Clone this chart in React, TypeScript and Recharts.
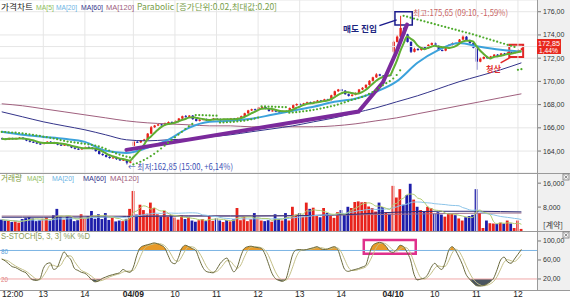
import { ComposedChart, Bar, Line, Area, XAxis, YAxis, CartesianGrid, ReferenceLine, ReferenceArea, Cell } from 'recharts';

// 5분봉: 04/08 12:00 ~ 04/10 12:05
const opens = [
  165.10, 165.05, 165.00, 165.10, 165.05, 165.10, 165.15, 165.05, 164.90, 164.80,
  164.75, 164.65, 164.60, 164.70, 164.80, 164.75, 164.65, 164.55, 164.50, 164.55,
  164.45, 164.30, 164.20, 164.15, 164.25, 164.35, 164.30, 164.20, 164.00, 163.75,
  163.65, 163.50, 163.40, 163.45, 163.30, 163.20, 163.25, 163.00,
  164.45, 164.80, 164.75, 164.90, 165.00, 165.50, 166.05, 166.20, 166.30, 166.25,
  166.40, 166.50, 166.45, 166.60, 166.80, 167.00, 166.95, 167.05, 166.75, 166.60,
  166.70, 166.75, 166.65, 166.70, 166.80, 166.75, 166.65, 166.75, 166.70, 166.80,
  166.75, 166.85, 167.00, 167.25, 167.50, 167.60, 167.55, 167.75, 167.80, 167.65,
  167.45, 167.50, 167.40, 167.35, 167.45, 167.40, 167.70, 167.95, 168.05, 168.00,
  168.10, 168.20, 168.15, 168.25, 168.35, 168.30, 168.45, 168.40, 168.80, 169.15,
  169.30, 169.20, 168.90, 168.75, 168.85, 169.00, 169.30, 169.45, 169.70, 170.05,
  170.35, 170.60, 170.50, 170.40, 170.55,
  172.55, 173.40, 173.85, 174.60, 174.05, 173.40, 172.55, 172.80, 172.70, 172.95,
  172.85, 173.15, 173.30, 173.05, 172.70, 172.65, 172.85, 173.15, 173.30, 173.25,
  173.60, 173.85, 173.55, 173.30, 172.90, 171.70, 171.95, 172.10, 172.00, 172.15,
  172.30, 172.20, 172.40, 172.35, 172.50, 172.45, 172.60, 172.70,
];
const highs = [
  165.15, 165.10, 165.15, 165.15, 165.15, 165.20, 165.20, 165.10, 164.95, 164.85,
  164.80, 164.70, 164.75, 164.85, 164.85, 164.80, 164.70, 164.60, 164.60, 164.60,
  164.50, 164.35, 164.25, 164.30, 164.40, 164.40, 164.35, 164.25, 164.05, 163.80,
  163.70, 163.55, 163.50, 163.50, 163.35, 163.30, 163.30, 163.15,
  164.90, 164.85, 164.95, 165.05, 165.55, 166.15, 166.25, 166.35, 166.35, 166.45,
  166.55, 166.55, 166.65, 166.85, 167.05, 167.10, 167.10, 167.10, 166.80, 166.75,
  166.80, 166.80, 166.75, 166.85, 166.85, 166.80, 166.80, 166.80, 166.85, 166.85,
  166.90, 167.05, 167.30, 167.55, 167.65, 167.65, 167.80, 167.85, 167.85, 167.70,
  167.55, 167.55, 167.45, 167.50, 167.50, 167.75, 168.00, 168.10, 168.10, 168.15,
  168.25, 168.25, 168.30, 168.40, 168.40, 168.50, 168.50, 168.85, 169.20, 169.35,
  169.35, 169.25, 168.95, 168.90, 169.05, 169.35, 169.50, 169.75, 170.10, 170.40,
  170.70, 170.65, 170.55, 170.60, 170.60,
  173.50, 173.95, 175.65, 174.70, 174.10, 173.45, 172.90, 172.85, 173.00, 173.00,
  173.20, 173.35, 173.35, 173.10, 172.75, 172.90, 173.20, 173.35, 173.35, 173.65,
  173.95, 173.90, 173.60, 173.35, 172.95, 172.05, 172.15, 172.15, 172.20, 172.35,
  172.35, 172.45, 172.45, 172.55, 172.55, 172.65, 172.75, 172.90,
];
const lows = [
  165.00, 164.95, 164.95, 165.00, 165.00, 165.05, 165.00, 164.85, 164.75, 164.70,
  164.60, 164.55, 164.55, 164.65, 164.70, 164.60, 164.50, 164.45, 164.45, 164.40,
  164.25, 164.15, 164.10, 164.10, 164.20, 164.25, 164.15, 163.95, 163.70, 163.60,
  163.45, 163.35, 163.35, 163.25, 163.15, 163.15, 162.85, 162.95,
  164.40, 164.70, 164.70, 164.85, 164.95, 165.45, 166.00, 166.15, 166.20, 166.20,
  166.35, 166.40, 166.40, 166.55, 166.75, 166.90, 166.90, 166.70, 166.55, 166.55,
  166.65, 166.60, 166.60, 166.65, 166.70, 166.60, 166.60, 166.65, 166.65, 166.70,
  166.70, 166.80, 166.95, 167.20, 167.45, 167.50, 167.50, 167.70, 167.60, 167.40,
  167.40, 167.35, 167.30, 167.30, 167.35, 167.35, 167.65, 167.90, 167.95, 167.95,
  168.05, 168.10, 168.10, 168.20, 168.25, 168.25, 168.35, 168.35, 168.75, 169.10,
  169.15, 168.85, 168.70, 168.70, 168.80, 168.95, 169.25, 169.40, 169.65, 170.00,
  170.30, 170.45, 170.35, 170.35, 170.45,
  172.45, 173.35, 173.80, 174.00, 173.35, 172.45, 172.50, 172.65, 172.65, 172.80,
  172.80, 173.10, 173.00, 172.65, 172.60, 172.60, 172.80, 173.10, 173.20, 173.20,
  173.55, 173.50, 173.25, 172.85, 171.00, 171.65, 171.90, 171.95, 171.95, 172.10,
  172.15, 172.15, 172.30, 172.30, 172.40, 172.40, 172.55, 172.65,
];
const closes = [
  165.05, 165.00, 165.10, 165.05, 165.10, 165.15, 165.05, 164.90, 164.80, 164.75,
  164.65, 164.60, 164.70, 164.80, 164.75, 164.65, 164.55, 164.50, 164.55, 164.45,
  164.30, 164.20, 164.15, 164.25, 164.35, 164.30, 164.20, 164.00, 163.75, 163.65,
  163.50, 163.40, 163.45, 163.30, 163.20, 163.25, 163.00, 163.10,
  164.80, 164.75, 164.90, 165.00, 165.50, 166.05, 166.20, 166.30, 166.25, 166.40,
  166.50, 166.45, 166.60, 166.80, 167.00, 166.95, 167.05, 166.75, 166.60, 166.70,
  166.75, 166.65, 166.70, 166.80, 166.75, 166.65, 166.75, 166.70, 166.80, 166.75,
  166.85, 167.00, 167.25, 167.50, 167.60, 167.55, 167.75, 167.80, 167.65, 167.45,
  167.50, 167.40, 167.35, 167.45, 167.40, 167.70, 167.95, 168.05, 168.00, 168.10,
  168.20, 168.15, 168.25, 168.35, 168.30, 168.45, 168.40, 168.80, 169.15, 169.30,
  169.20, 168.90, 168.75, 168.85, 169.00, 169.30, 169.45, 169.70, 170.05, 170.35,
  170.60, 170.50, 170.40, 170.55, 170.50,
  173.40, 173.85, 174.60, 174.05, 173.40, 172.55, 172.80, 172.70, 172.95, 172.85,
  173.15, 173.30, 173.05, 172.70, 172.65, 172.85, 173.15, 173.30, 173.25, 173.60,
  173.85, 173.55, 173.30, 172.90, 171.70, 171.95, 172.10, 172.00, 172.15, 172.30,
  172.20, 172.40, 172.35, 172.50, 172.45, 172.60, 172.70, 172.85,
];
const volumes = [
  3800, 3500, 3400, 3000, 3200, 2800, 4000, 4300, 4600, 4200,
  3300, 3600, 4100, 4500, 3500, 5300, 7400, 4600, 3800, 4700,
  4500, 3300, 3600, 5600, 4200, 5000, 6700, 4100, 5600, 4000,
  6000, 3700, 4400, 3200, 3500, 3300, 3900, 7400,
  13400, 5500, 8800, 7000, 5800, 9500, 7700, 5600, 4800, 6700,
  4800, 5100, 4500, 3800, 5300, 4000, 4600, 3500, 3100, 3600,
  4000, 3300, 5300, 3400, 4200, 3500, 3000, 3700, 3200, 3900,
  7700, 3600, 4800, 3300, 4000, 6000, 4200, 3500, 3300, 3600,
  3100, 5600, 4000, 3500, 6000, 3500, 8100, 5500, 6000, 4800,
  9500, 7400, 7800, 5000, 4600, 7700, 6000, 5000, 4400, 6300,
  7000, 5400, 8100, 7700, 9700, 9900, 9600, 9700, 8200, 7700,
  6500, 9500, 8000, 6200, 5800,
  15100, 11200, 14000, 8800, 12000, 15800, 10500, 8100, 7000, 6500,
  8100, 7700, 5800, 6300, 5500, 4800, 6000, 6000, 5300, 4200,
  3500, 4600, 5000, 5400, 14000, 6000, 1000, 3500, 2600, 2500,
  2400, 2800, 2500, 3500, 2500, 1000, 3500, 700,
];
const sarValues = [
  165.65, 165.64, 165.62, 165.60, 165.58, 165.55, 165.52, 165.48, 165.44, 165.40,
  165.35, 165.30, 165.25, 165.20, 165.14, 165.08, 165.02, 164.95, 164.88, 164.82,
  164.78, 164.74, 164.70, 164.66, 164.62, 164.58, 164.54, 164.48, 164.40, 164.30,
  164.18, 164.05, 163.92, 163.80, 163.70, 163.60, 163.52, 163.45,
  162.85, 162.95, 163.08, 163.22, 163.38, 163.56, 163.76, 163.98, 164.22, 164.46,
  164.70, 164.94, 165.18, 165.42, 165.66, 165.90, 166.12, 166.34, 167.10, 167.10,
  167.09, 167.08, 167.07, 167.06, 167.05, 166.45, 166.46, 166.48, 166.50, 166.52,
  166.55, 166.58, 166.62, 166.67, 166.73, 166.80, 166.88, 167.85, 167.84, 167.83,
  167.82, 167.81, 167.80, 167.79, 167.78, 167.30, 167.32, 167.35, 167.38, 167.42,
  167.46, 167.50, 167.55, 167.60, 167.66, 167.72, 167.78, 167.85, 167.92, 168.00,
  168.10, 168.20, 168.30, 168.40, 168.48, 168.56, 168.66, 168.78, 168.92, 169.08,
  169.26, 169.46, 169.66, 169.85, 170.02,
  170.25, 170.55, 170.95, 175.65, 175.57, 175.49, 175.41, 175.33, 175.25, 175.17,
  175.09, 175.01, 174.93, 174.85, 174.77, 174.69, 174.61, 174.53, 174.45, 174.37,
  174.29, 174.21, 174.13, 174.05, 173.96, 173.87, 173.78, 173.69, 173.60, 173.51,
  173.42, 173.33, 173.24, 173.15, 173.06, 172.97, 171.00, 171.05,
];
const stochK = [
  62, 58, 52, 46, 44, 40, 36, 33, 24, 18,
  17, 20, 42, 52, 54, 40, 44, 62, 77, 68,
  60, 42, 38, 34, 32, 26, 18, 14, 16, 21,
  24, 27, 29, 31, 33, 40, 36, 34,
  45, 70, 86, 90, 92, 94, 96, 94, 91, 86,
  70, 55, 52, 65, 85, 91, 88, 84, 80, 62,
  45, 36, 34, 33, 40, 52, 60, 64, 48, 35,
  45, 68, 84, 88, 89, 87, 86, 84, 72, 52,
  32, 21, 17, 15, 20, 45, 72, 81, 82, 81,
  82, 84, 86, 88, 84, 82, 83, 86, 88, 82,
  60, 40, 36, 38, 40, 42, 45, 48, 70, 90,
  95, 97, 95, 88, 78,
  76, 82, 91, 88, 76, 60, 30, 18, 20, 22,
  30, 45, 53, 45, 40, 55, 80, 88, 80, 66,
  50, 30, 20, 12, 6, 5, 6, 9, 14, 22,
  40, 60, 66, 56, 53, 62, 72, 82,
];

// 느린 이평선: 6봉 간격으로 읽은 값
const maIdx = [0, 6, 12, 18, 24, 30, 36, 42, 48, 54, 60, 66, 72, 78, 84, 90, 96, 102, 108, 114, 120, 126, 132, 138, 144, 150];
const ma20 = [165.66, 165.40, 165.22, 165.05, 164.79, 164.02, 163.84, 164.28, 164.97, 166.00, 166.52, 166.60, 166.78, 167.12, 167.47, 167.81, 168.24, 168.50, 169.10, 170.00, 171.60, 172.70, 173.30, 172.98, 172.72, 172.55];
const ma60 = [167.38, 166.95, 166.52, 166.17, 165.83, 165.40, 164.97, 164.88, 164.97, 165.05, 165.22, 165.40, 165.66, 165.91, 166.17, 166.52, 166.86, 167.29, 167.72, 168.24, 168.76, 169.36, 169.97, 170.48, 171.00, 171.60];
const ma120 = [168.07, 167.90, 167.64, 167.38, 167.12, 166.86, 166.60, 166.43, 166.34, 166.26, 166.17, 166.17, 166.09, 166.09, 166.09, 166.09, 166.17, 166.34, 166.60, 166.86, 167.21, 167.55, 167.90, 168.24, 168.59, 168.93];
const volMa60 = [4600, 4600, 4600, 4650, 4700, 4700, 4800, 4900, 5000, 5000, 5000, 5000, 5000, 5050, 5100, 5200, 5400, 5600, 6000, 6300, 6500, 6600, 6600, 6600, 6500, 6400];
const volMa120 = [5000, 5000, 5000, 5000, 5000, 5000, 5000, 5050, 5100, 5100, 5100, 5100, 5100, 5100, 5150, 5200, 5300, 5400, 5500, 5600, 5700, 5800, 5900, 5950, 6000, 6000];

// 손으로 그린 추세선 (보라색)
const trendIdx = [36, 103, 110, 114, 117];
const trendVal = [164.10, 167.40, 169.90, 172.60, 174.90];

const tickIdx = [0, 12, 24, 38, 50, 62, 74, 86, 98, 113, 125, 137, 149];
const tickText = ['12:00', '13', '14', '04/09', '10', '11', '12', '13', '14', '04/10', '10', '11', '12'];
// 173,00 은 현재가 표시에 가려 보이지 않음
const priceTicks = [163, 164, 165, 166, 167, 168, 169, 170, 171, 172, 174, 175, 176];
const volTicks = [4000, 8000, 12000, 16000];
const stochTicks = [20, 40, 60, 80, 100];

const RED = '#e8231c';
const BLUE = '#1e1eaa';
const SLOTS = 155;
const FONT = "'Noto Sans CJK KR', 'Noto Sans', sans-serif";
const NUM_FONT = "'Liberation Sans', 'DejaVu Sans', sans-serif";

const avg = (arr: number[], i: number, n: number) => {
  const s = Math.max(0, i - n + 1);
  let t = 0;
  for (let j = s; j <= i; j++) t += arr[j];
  return t / (i - s + 1);
};

const rows = Array.from({ length: SLOTS }, (_, i) => {
  if (i >= closes.length) return { i };
  const m = maIdx.indexOf(i);
  const t = trendIdx.indexOf(i);
  const k = stochK[i];
  return {
    i,
    o: opens[i], h: highs[i], l: lows[i], c: closes[i],
    hl: [lows[i], highs[i]],
    ma5: avg(closes, i, 5),
    ma20: m >= 0 ? ma20[m] : null,
    ma60: m >= 0 ? ma60[m] : null,
    ma120: m >= 0 ? ma120[m] : null,
    sar: sarValues[i],
    trend: t >= 0 ? trendVal[t] : null,
    vol: volumes[i],
    vma5: avg(volumes, i, 5),
    vma20: avg(volumes, i, 20),
    vma60: m >= 0 ? volMa60[m] : null,
    vma120: m >= 0 ? volMa120[m] : null,
    k,
    d: avg(stochK, i, 3),
    kHi: [80, Math.max(80, k)],
    kLo: [Math.min(20, k), 20],
  };
});

const Candle = (props: any) => {
  const { x, width, payload } = props;
  let { y, height } = props;
  if (!payload || payload.o == null) return <g />;
  if (height < 0) { y += height; height = -height; }
  const { o, h, l, c } = payload;
  const up = c >= o;
  const color = up ? RED : BLUE;
  const k = h === l ? 0 : height / (h - l);
  const yO = y + (h - o) * k;
  const yC = y + (h - c) * k;
  const top = Math.min(yO, yC);
  const bh = Math.max(1, Math.abs(yO - yC));
  const cx = x + width / 2;
  return (
    <g>
      <line x1={cx} x2={cx} y1={y} y2={y + height} stroke={color} strokeWidth={1} />
      <rect x={x} y={top} width={width} height={bh} fill={color} />
    </g>
  );
};

// 스토캐스틱 차트 안쪽 좌표 (차트 상단 = 231px)
const XTick = (props: any) => {
  const { x, payload } = props;
  const n = tickIdx.indexOf(payload.value);
  const label = tickText[n] ?? '';
  const isDate = label.includes('/');
  const first = n === 0;
  return (
    <text x={first ? 2 : x} y={66} textAnchor={first ? 'start' : 'middle'} fontSize={8.5}
      fontWeight={isDate ? 700 : 400} fill="#222" fontFamily={NUM_FONT}>{label}</text>
  );
};

const decComma = (v: number) => v.toFixed(2).replace('.', ',');
const yTick = { fontSize: 7, fill: '#333', fontFamily: NUM_FONT };
const margin = { top: 0, right: 0, left: 0, bottom: 0 };

const T = (p: { x: number; y: number; w: number; fill: string; size?: number; bold?: boolean; font?: string; children: string }) => (
  <text x={p.x} y={p.y} textLength={p.w} lengthAdjust="spacingAndGlyphs" fontSize={p.size ?? 8.5}
    fontWeight={p.bold ? 700 : 400} fill={p.fill} fontFamily={p.font ?? FONT}>{p.children}</text>
);

const CloseBox = ({ x, y }: { x: number; y: number }) => (
  <g stroke="#777" strokeWidth={0.8} fill="none">
    <rect x={x} y={y} width={6} height={6} />
    <line x1={x + 1.5} y1={y + 1.5} x2={x + 4.5} y2={y + 4.5} />
    <line x1={x + 4.5} y1={y + 1.5} x2={x + 1.5} y2={y + 4.5} />
  </g>
);

export default function App() {
  return (
    <div style={{ position: 'fixed', left: 0, top: 0, width: 570, height: 301, background: '#fff', fontFamily: FONT, overflow: 'hidden' }}>
      <div style={{ position: 'absolute', left: 537, top: 0, width: 33, height: 290, background: '#f0f0f0' }} />

      {/* 가격차트 */}
      <div style={{ position: 'absolute', left: 0, top: 0 }}>
        <ComposedChart width={570} height={173} data={rows} margin={margin}>
          <CartesianGrid vertical={false} stroke="#e6e6e6" />
          <XAxis dataKey="i" hide scale="band" />
          <YAxis orientation="right" width={33} domain={[162.11, 177.01]} allowDataOverflow ticks={priceTicks}
            tickFormatter={decComma} tick={yTick} tickSize={4} axisLine={false} tickLine={{ stroke: '#777' }} />
          <ReferenceLine y={173} stroke="#e6e6e6" />
          {tickIdx.slice(1).map((t) => (
            <ReferenceLine key={t} x={t} stroke="#e6e6e6" />
          ))}
          <Bar dataKey="hl" barSize={2.4} shape={(p: any) => <Candle {...p} />} isAnimationActive={false} />
          <Line dataKey="ma120" type="monotone" stroke="#a0607e" strokeWidth={1} dot={false} activeDot={false} connectNulls isAnimationActive={false} />
          <Line dataKey="ma60" type="monotone" stroke="#34348a" strokeWidth={1} dot={false} activeDot={false} connectNulls isAnimationActive={false} />
          <Line dataKey="ma20" type="monotone" stroke="#3ca2dc" strokeWidth={2} dot={false} activeDot={false} connectNulls isAnimationActive={false} />
          <Line dataKey="ma5" type="monotone" stroke="#5fae32" strokeWidth={2} dot={false} activeDot={false} isAnimationActive={false} />
          <Line dataKey="sar" stroke="none" dot={{ r: 1.1, fill: '#4caa2a', stroke: 'none' }} activeDot={false} isAnimationActive={false} />
          <Line dataKey="trend" type="linear" stroke="#7b2a9c" strokeWidth={4} dot={false} activeDot={false} connectNulls strokeLinecap="round" isAnimationActive={false} />
          <ReferenceArea x1={114} x2={118} y1={174.85} y2={176.0} fill="none" stroke="#1b1b8c" strokeWidth={1.5} ifOverflow="visible" />
          <ReferenceLine segment={[{ x: 109, y: 174.8 }, { x: 114, y: 175.3 }]} stroke="#1b1b8c" strokeWidth={1.5} ifOverflow="visible" />
          <ReferenceArea x1={147} x2={150} y1={172.1} y2={173.15} fill="none" stroke="#e02828" strokeWidth={2} ifOverflow="visible" />
          <ReferenceLine segment={[{ x: 144, y: 171.6 }, { x: 147, y: 172.1 }]} stroke="#e02828" strokeWidth={1.5} ifOverflow="visible" />
        </ComposedChart>
      </div>

      {/* 거래량 */}
      <div style={{ position: 'absolute', left: 0, top: 173 }}>
        <ComposedChart width={570} height={58} data={rows} margin={margin}>
          <XAxis dataKey="i" hide scale="band" />
          <YAxis orientation="right" width={33} domain={[0, 19400]} allowDataOverflow ticks={volTicks}
            tickFormatter={(v: number) => v.toLocaleString('en-US')} tick={yTick} tickSize={4} axisLine={false} tickLine={{ stroke: '#777' }} />
          {tickIdx.slice(1).map((t) => (
            <ReferenceLine key={t} x={t} stroke="#ececec" />
          ))}
          <Bar dataKey="vol" barSize={2.8} isAnimationActive={false}>
            {rows.map((r: any, idx) => (
              <Cell key={idx} fill={r.c >= r.o ? RED : BLUE} />
            ))}
          </Bar>
          <Line dataKey="vma120" type="monotone" stroke="#a0708c" strokeWidth={1} dot={false} activeDot={false} connectNulls isAnimationActive={false} />
          <Line dataKey="vma60" type="monotone" stroke="#2e2e78" strokeWidth={1} dot={false} activeDot={false} connectNulls isAnimationActive={false} />
          <Line dataKey="vma20" type="monotone" stroke="#8cc4e8" strokeWidth={1} dot={false} activeDot={false} isAnimationActive={false} />
          <Line dataKey="vma5" type="monotone" stroke="#b0cc70" strokeWidth={1} dot={false} activeDot={false} isAnimationActive={false} />
        </ComposedChart>
      </div>

      {/* S-STOCH */}
      <div style={{ position: 'absolute', left: 0, top: 231 }}>
        <ComposedChart width={570} height={70} data={rows} margin={margin}>
          <XAxis dataKey="i" scale="band" ticks={tickIdx} interval={0} tick={<XTick />} tickLine={false} axisLine={false} height={11} />
          <YAxis orientation="right" width={33} domain={[-3.2, 121]} allowDataOverflow ticks={stochTicks}
            tickFormatter={decComma} tick={yTick} tickSize={4} axisLine={false} tickLine={{ stroke: '#777' }} />
          <ReferenceLine y={80} stroke="#7cb4e4" />
          <ReferenceLine y={20} stroke="#f0a8a8" />
          <Area dataKey="kHi" type="monotone" fill="#e89a28" fillOpacity={1} stroke="none" activeDot={false} isAnimationActive={false} />
          <Area dataKey="kLo" type="monotone" fill="#4a5560" fillOpacity={1} stroke="none" activeDot={false} isAnimationActive={false} />
          <Line dataKey="d" type="monotone" stroke="#c4c088" strokeWidth={1} dot={false} activeDot={false} isAnimationActive={false} />
          <Line dataKey="k" type="monotone" stroke="#6a6a3e" strokeWidth={1} dot={false} activeDot={false} isAnimationActive={false} />
          <ReferenceArea x1={105} x2={119} y1={73} y2={102} fill="none" stroke="#e0308c" strokeWidth={2.5} ifOverflow="visible" />
        </ComposedChart>
      </div>

      {/* 구분선 */}
      <div style={{ position: 'absolute', left: 0, top: 173, width: 570, height: 1, background: '#9a9a9a' }} />
      <div style={{ position: 'absolute', left: 0, top: 231, width: 570, height: 1, background: '#9a9a9a' }} />
      <div style={{ position: 'absolute', left: 0, top: 290, width: 570, height: 1, background: '#9a9a9a' }} />
      <div style={{ position: 'absolute', left: 537, top: 0, width: 1, height: 290, background: '#9a9a9a' }} />

      <svg width={570} height={301} style={{ position: 'absolute', left: 0, top: 0, pointerEvents: 'none' }}>
        <T x={1} y={9.5} w={32} fill="#222">가격차트</T>
        <T x={36} y={9.5} w={18} fill="#8fc060" size={7.5} font={NUM_FONT}>MA[5]</T>
        <T x={56} y={9.5} w={21} fill="#6cb4e4" size={7.5} font={NUM_FONT}>MA[20]</T>
        <T x={81} y={9.5} w={22} fill="#35358a" size={7.5} font={NUM_FONT}>MA[60]</T>
        <T x={106} y={9.5} w={28} fill="#a0607e" size={7.5} font={NUM_FONT}>MA[120]</T>
        <T x={137} y={9.5} w={140} fill="#78a04a">Parabolic [증가단위:0.02,최대값:0.20]</T>

        <T x={343} y={31.5} w={34} fill="#1a237e" bold>매도 진입</T>
        <T x={413} y={15.5} w={95} fill="#c86464">최고:175,65 (09:10, -1,59%)</T>
        <T x={128} y={170} w={105} fill="#3c4fb4">← 최저:162,85 (15:00, +6,14%)</T>
        <T x={486} y={71.5} w={15} fill="#e03030" bold>청산</T>

        <rect x={537} y={39} width={24} height={15} fill="#e8281e" />
        <T x={538} y={45.5} w={22} fill="#fff" size={6.5} font={NUM_FONT}>172,85</T>
        <T x={539} y={52.8} w={19} fill="#fff" size={6.5} font={NUM_FONT}>1,44%</T>

        <T x={1} y={180.5} w={21} fill="#7a9a3a">거래량</T>
        <T x={27} y={180.5} w={17} fill="#8fc060" size={7.5} font={NUM_FONT}>MA[5]</T>
        <T x={52} y={180.5} w={22} fill="#6cb4e4" size={7.5} font={NUM_FONT}>MA[20]</T>
        <T x={83} y={180.5} w={23} fill="#35358a" size={7.5} font={NUM_FONT}>MA[60]</T>
        <T x={110} y={180.5} w={29} fill="#a0607e" size={7.5} font={NUM_FONT}>MA[120]</T>
        <T x={543} y={228} w={20} fill="#333" size={7.5}>[계약]</T>

        <T x={1} y={238.5} w={89} fill="#8a9a58" font={NUM_FONT}>S-STOCH[5, 3, 3] %K %D</T>
        <T x={1} y={254} w={7} fill="#5aa0d8" size={7.5} font={NUM_FONT}>80</T>
        <T x={1} y={282} w={7} fill="#e08080" size={7.5} font={NUM_FONT}>20</T>

        <CloseBox x={563} y={174} />
        <CloseBox x={563} y={232} />
      </svg>
    </div>
  );
}
